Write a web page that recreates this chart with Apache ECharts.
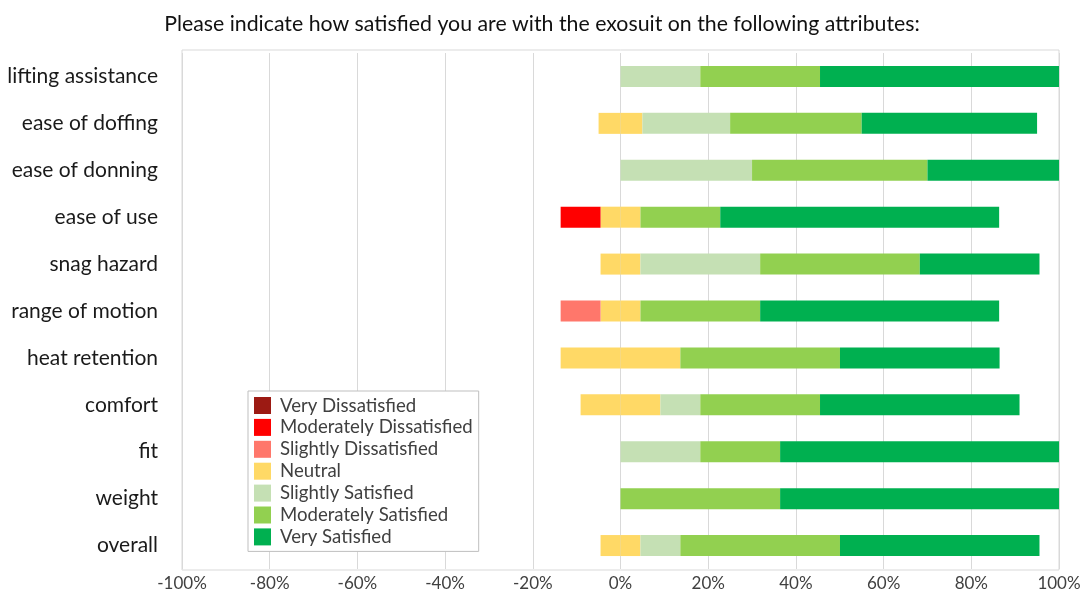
<!DOCTYPE html>
<html>
<head>
<meta charset="utf-8">
<script src="https://cdn.jsdelivr.net/npm/echarts@6/dist/echarts.min.js"></script>
<style>
html,body{margin:0;padding:0;background:#fff;}
#chart{width:1087px;height:599px;}
</style>
</head>
<body>
<div id="chart"></div>
<script>
// Categories top to bottom
var categories = ['lifting assistance','ease of doffing','ease of donning','ease of use','snag hazard','range of motion','heat retention','comfort','fit','weight','overall'];
// Percentages of respondents per category
var veryDissatisfied       = [0, 0, 0, 0,   0,   0,   0,    0,    0,    0,    0];
var moderatelyDissatisfied = [0, 0, 0, 9.1, 0,   0,   0,    0,    0,    0,    0];
var slightlyDissatisfied   = [0, 0, 0, 0,   0,   9.1, 0,    0,    0,    0,    0];
var neutral                = [0, 10, 0, 9.1, 9.1, 9.1, 27.3, 18.2, 0,    0,    9.1];
var slightlySatisfied      = [18.2, 20, 30, 0, 27.3, 0, 0, 9.1, 18.2, 0, 9.1];
var moderatelySatisfied    = [27.3, 30, 40, 18.2, 36.4, 27.3, 36.4, 27.3, 18.2, 36.4, 36.4];
var verySatisfied          = [54.5, 40, 30, 63.6, 27.3, 54.5, 36.4, 45.5, 63.6, 63.6, 45.5];
var tickLabels = ['-100%','-80%','-60%','-40%','-20%','0%','20%','40%','60%','80%','100%'];

var legendNames = ['Very Dissatisfied','Moderately Dissatisfied','Slightly Dissatisfied','Neutral','Slightly Satisfied','Moderately Satisfied','Very Satisfied'];
var colors = {
  'Very Dissatisfied':'#9c1a13',
  'Moderately Dissatisfied':'#ff0000',
  'Slightly Dissatisfied':'#ff776b',
  'Neutral':'#ffd966',
  'Slightly Satisfied':'#c5e0b4',
  'Moderately Satisfied':'#92d050',
  'Very Satisfied':'#00b050'
};

function neg(arr){ return arr.map(function(v){ return -v; }); }
function half(arr, sign){ return arr.map(function(v){ return sign * v / 2; }); }

function bar(name, data){
  return {
    name: name, type: 'bar', stack: 'total', stackStrategy: 'samesign',
    xAxisIndex: 0, yAxisIndex: 0,
    barWidth: 21, data: data,
    itemStyle: { color: colors[name] },
    emphasis: { disabled: true }
  };
}

var series = [
  bar('Neutral', half(neutral, -1)),
  bar('Neutral', half(neutral, 1)),
  bar('Slightly Dissatisfied', neg(slightlyDissatisfied)),
  bar('Moderately Dissatisfied', neg(moderatelyDissatisfied)),
  bar('Very Dissatisfied', neg(veryDissatisfied)),
  bar('Slightly Satisfied', slightlySatisfied),
  bar('Moderately Satisfied', moderatelySatisfied),
  bar('Very Satisfied', verySatisfied)
];

var chart = echarts.init(document.getElementById('chart'), null, {renderer:'canvas'});
chart.setOption({
  animation: false,
  backgroundColor: '#ffffff',
  title: {
    text: 'Please indicate how satisfied you are with the exosuit on the following attributes:',
    left: 537, textAlign: 'center', top: 9,
    textStyle: { fontFamily: 'Lato', fontSize: 21.3, fontWeight: 'normal', color: '#111' }
  },
  legend: {
    orient: 'vertical', left: 248, top: 391,
    data: legendNames,
    icon: 'rect', itemWidth: 17, itemHeight: 17, itemGap: 2.9,
    padding: [5, 6, 5, 6],
    backgroundColor: '#fff', borderColor: '#bfbfbf', borderWidth: 1,
    textStyle: { fontFamily: 'Lato', fontSize: 18.6, color: '#404040', padding: [0,0,0,4] },
    selectedMode: false
  },
  grid: [
    { left: 182, right: 28, top: 53, bottom: 30, show: false },
    { left: 182, right: 28, top: 50, bottom: 29, show: true, borderColor: '#d9d9d9', borderWidth: 1, z: 0 }
  ],
  xAxis: [{
    type: 'value', min: -100, max: 100, interval: 20, gridIndex: 0,
    axisLine: { show: false },
    axisTick: { show: false },
    splitLine: { show: true, lineStyle: { color: '#d9d9d9', width: 1 } },
    axisLabel: {
      fontFamily: 'Lato', fontSize: 17, color: '#404040', margin: 6,
      formatter: function(v){ var i = Math.round((v + 100) / 20); return tickLabels[i]; }
    }
  }, {
    type: 'value', min: 0, max: 1, gridIndex: 1, show: false
  }],
  yAxis: [{
    type: 'category', data: categories, inverse: true, gridIndex: 0,
    axisLine: { show: false }, axisTick: { show: false },
    axisLabel: { fontFamily: 'Lato', fontSize: 21, color: '#1a1a1a', margin: 24 }
  }, {
    type: 'value', min: 0, max: 1, gridIndex: 1, show: false
  }],
  series: series
});
</script>
</body>
</html>
